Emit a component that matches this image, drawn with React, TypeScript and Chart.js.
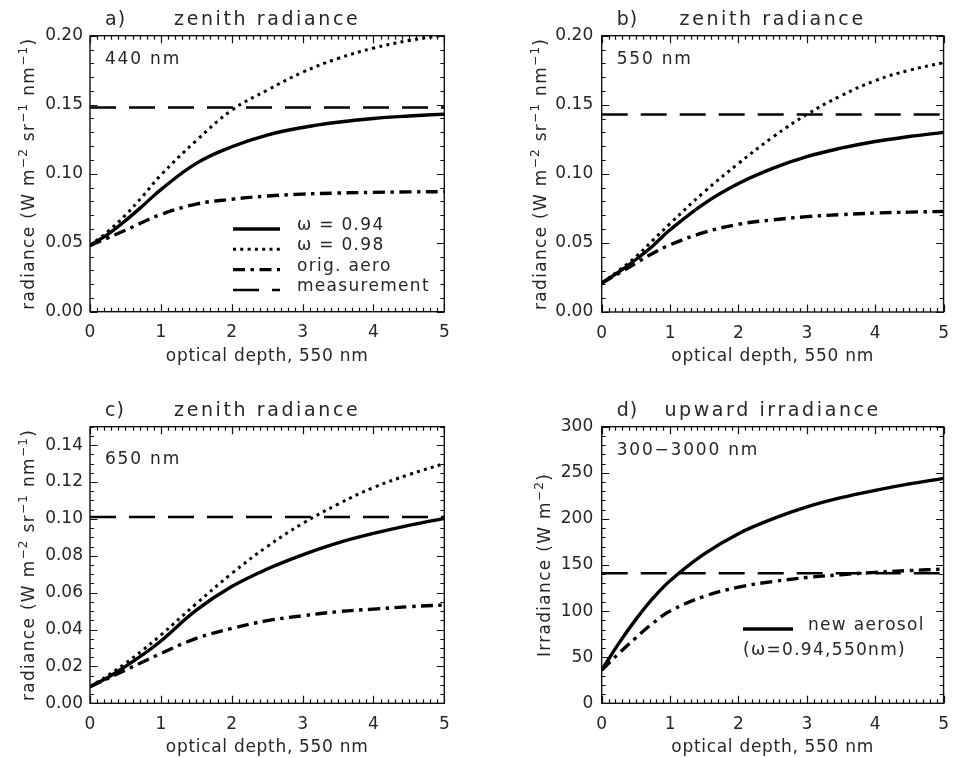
import React, { useEffect, useRef } from 'react';
import { Chart, registerables } from 'chart.js';

Chart.register(...registerables);

// ---------------------------------------------------------------------------
// Data
// ---------------------------------------------------------------------------

// optical depth at 550 nm (shared abscissa of all four panels)
const tau = [0, 0.25, 0.5, 0.75, 1, 1.5, 2, 2.5, 3, 3.5, 4, 4.5, 5];
const tauTicks = [0, 1, 2, 3, 4, 5];

// a) zenith radiance, 440 nm  [W m-2 sr-1 nm-1]
const rad440_w094 = [0.048, 0.056, 0.066, 0.077, 0.0885, 0.1075, 0.1195, 0.128, 0.1335, 0.1373, 0.14, 0.1418, 0.1432];
const rad440_w098 = [0.048, 0.058, 0.07, 0.084, 0.099, 0.124, 0.146, 0.1605, 0.1735, 0.1835, 0.191, 0.1965, 0.2005];
const rad440_orig = [0.048, 0.0535, 0.059, 0.065, 0.0705, 0.078, 0.0815, 0.0838, 0.0852, 0.086, 0.0865, 0.0868, 0.087];
const rad440_meas = 0.148;

// b) zenith radiance, 550 nm
const rad550_w094 = [0.021, 0.029, 0.038, 0.048, 0.0595, 0.0785, 0.093, 0.104, 0.1125, 0.1186, 0.1234, 0.127, 0.13];
const rad550_w098 = [0.021, 0.03, 0.04, 0.052, 0.064, 0.087, 0.1075, 0.1265, 0.143, 0.1565, 0.1675, 0.175, 0.1805];
const rad550_orig = [0.021, 0.028, 0.0354, 0.0425, 0.0487, 0.0576, 0.0635, 0.0667, 0.069, 0.0705, 0.0716, 0.0723, 0.0728];
const rad550_meas = 0.143;

// c) zenith radiance, 650 nm
const rad650_w094 = [0.009, 0.014, 0.02, 0.0265, 0.0338, 0.0505, 0.0633, 0.0728, 0.0805, 0.087, 0.0921, 0.0965, 0.1003];
const rad650_w098 = [0.009, 0.015, 0.0217, 0.029, 0.037, 0.054, 0.0704, 0.085, 0.0975, 0.108, 0.117, 0.124, 0.13];
const rad650_orig = [0.009, 0.0135, 0.018, 0.0225, 0.027, 0.0352, 0.0406, 0.0448, 0.0475, 0.0497, 0.0511, 0.0524, 0.0533];
const rad650_meas = 0.101;

// d) upward irradiance, 300-3000 nm  [W m-2]
const irr_new = [36, 65, 91, 114, 133, 162, 184, 200, 213, 223, 231, 238, 244];
const irr_orig = [36, 54, 71, 87, 100, 116, 126, 132, 136.5, 139.5, 142, 144, 145.5];
const irr_meas = 141;

// y-axis ranges and tick spacing: [min, max, major step, minor step, decimals]
const radAxisAB = [0, 0.2, 0.05, 0.01, 2];
const radAxisC = [0, 0.15, 0.02, 0.005, 2];
const irrAxis = [0, 300, 50, 10, 0];

// ---------------------------------------------------------------------------
// Styling
// ---------------------------------------------------------------------------

const INK = '#262626';
const FONT = "'DejaVu Sans', 'Liberation Sans', sans-serif";
const CW = 480;
const CH = 379;

type StyleKey = 'solid' | 'dotted' | 'dashdot' | 'dashed';
const STYLE: Record<StyleKey, { width: number; dash: number[] }> = {
  solid: { width: 3.4, dash: [] },
  dotted: { width: 3, dash: [3, 4.3] },
  dashdot: { width: 3.4, dash: [12, 5.5, 3.5, 5.5] },
  dashed: { width: 2.4, dash: [26, 13] },
};

type Seg = { text: string; sup?: boolean };
const RADIANCE_UNITS: Seg[] = [
  { text: 'radiance (W m' },
  { text: '−2', sup: true },
  { text: ' sr' },
  { text: '−1', sup: true },
  { text: ' nm' },
  { text: '−1', sup: true },
  { text: ')' },
];
const IRRADIANCE_UNITS: Seg[] = [{ text: 'Irradiance (W m' }, { text: '−2', sup: true }, { text: ')' }];

type Series = { values: number[]; style: StyleKey };
type LegendRow = { style?: StyleKey; text: string; lineX?: [number, number]; textX: number; base: number };

type Panel = {
  tag: string;
  title: string;
  band: string;
  yTitle: Seg[];
  axis: number[];
  series: Series[];
  meas: number;
  // layout inside the 480x379 canvas
  area: { l: number; t: number; r: number; b: number };
  yLabelPad: number;
  yTitleBase: number;
  titleBase: number;
  bandBase: number;
  xTitleBase: number;
  legend: LegendRow[];
};

const PANELS: { left: number; top: number; panel: Panel }[] = [
  {
    left: 0,
    top: 0,
    panel: {
      tag: 'a)',
      title: 'zenith radiance',
      band: '440 nm',
      yTitle: RADIANCE_UNITS,
      axis: radAxisAB,
      series: [
        { values: rad440_orig, style: 'dashdot' },
        { values: rad440_w098, style: 'dotted' },
        { values: rad440_w094, style: 'solid' },
      ],
      meas: rad440_meas,
      area: { l: 90, t: 35.7, r: 444.3, b: 311.7 },
      yLabelPad: 7,
      yTitleBase: 33.5,
      titleBase: 25,
      bandBase: 64.3,
      xTitleBase: 360.7,
      legend: [
        { style: 'solid', text: 'ω = 0.94', lineX: [233, 280], textX: 297, base: 230 },
        { style: 'dotted', text: 'ω = 0.98', lineX: [233, 280], textX: 297, base: 250.3 },
        { style: 'dashdot', text: 'orig. aero', lineX: [233, 280], textX: 297, base: 270.6 },
        { style: 'dashed', text: 'measurement', lineX: [233, 280], textX: 297, base: 291 },
      ],
    },
  },
  {
    left: 480,
    top: 0,
    panel: {
      tag: 'b)',
      title: 'zenith radiance',
      band: '550 nm',
      yTitle: RADIANCE_UNITS,
      axis: radAxisAB,
      series: [
        { values: rad550_orig, style: 'dashdot' },
        { values: rad550_w098, style: 'dotted' },
        { values: rad550_w094, style: 'solid' },
      ],
      meas: rad550_meas,
      area: { l: 121.7, t: 35.7, r: 475, b: 312 },
      yLabelPad: 8.5,
      yTitleBase: 65.5,
      titleBase: 25,
      bandBase: 64,
      xTitleBase: 360.7,
      legend: [],
    },
  },
  {
    left: 0,
    top: 379,
    panel: {
      tag: 'c)',
      title: 'zenith radiance',
      band: '650 nm',
      yTitle: RADIANCE_UNITS,
      axis: radAxisC,
      series: [
        { values: rad650_orig, style: 'dashdot' },
        { values: rad650_w098, style: 'dotted' },
        { values: rad650_w094, style: 'solid' },
      ],
      meas: rad650_meas,
      area: { l: 90, t: 47.7, r: 444.3, b: 324.3 },
      yLabelPad: 7,
      yTitleBase: 33.5,
      titleBase: 36.5,
      bandBase: 85.3,
      xTitleBase: 372.5,
      legend: [],
    },
  },
  {
    left: 480,
    top: 379,
    panel: {
      tag: 'd)',
      title: 'upward irradiance',
      band: '300−3000 nm',
      yTitle: IRRADIANCE_UNITS,
      axis: irrAxis,
      series: [
        { values: irr_orig, style: 'dashdot' },
        { values: irr_new, style: 'solid' },
      ],
      meas: irr_meas,
      area: { l: 121.7, t: 47.7, r: 475, b: 324.3 },
      yLabelPad: 8.5,
      yTitleBase: 69.5,
      titleBase: 37,
      bandBase: 76,
      xTitleBase: 372.5,
      legend: [
        { style: 'solid', text: 'new aerosol', lineX: [263, 313], textX: 328, base: 251 },
        { text: '(ω=0.94,550nm)', textX: 263, base: 276 },
      ],
    },
  },
];

// ---------------------------------------------------------------------------
// Plugins: box with inward major/minor ticks, and the panel annotations
// ---------------------------------------------------------------------------

function frameTicksPlugin(p: Panel) {
  return {
    id: 'frameTicks',
    afterDraw(chart: any) {
      const { ctx, chartArea: a, scales } = chart;
      const xs = scales.x;
      const ys = scales.y;
      const [yMin, yMax, yMajor, yMinor] = p.axis;
      const MAJ = 7.5;
      const MIN = 4;
      ctx.save();
      ctx.strokeStyle = '#111';
      ctx.lineWidth = 1.2;
      ctx.setLineDash([]);
      ctx.beginPath();
      // x ticks: major every 1, minor every 0.1
      for (let k = 0; k <= 50; k++) {
        const v = k / 10;
        const len = k % 10 === 0 ? MAJ : MIN;
        const px = Math.round(xs.getPixelForValue(v)) + 0.5;
        ctx.moveTo(px, a.bottom);
        ctx.lineTo(px, a.bottom - len);
        ctx.moveTo(px, a.top);
        ctx.lineTo(px, a.top + len);
      }
      const n = Math.round((yMax - yMin) / yMinor);
      const per = Math.round(yMajor / yMinor);
      for (let k = 0; k <= n; k++) {
        const v = yMin + k * yMinor;
        const len = k % per === 0 ? MAJ : MIN;
        const py = Math.round(ys.getPixelForValue(v)) + 0.5;
        ctx.moveTo(a.left, py);
        ctx.lineTo(a.left + len, py);
        ctx.moveTo(a.right, py);
        ctx.lineTo(a.right - len, py);
      }
      ctx.stroke();
      ctx.lineWidth = 1.4;
      ctx.strokeRect(a.left, a.top, a.right - a.left, a.bottom - a.top);
      ctx.restore();
    },
  };
}

function setSpacing(ctx: any, px: number) {
  if ('letterSpacing' in ctx) ctx.letterSpacing = `${px}px`;
}

function annotationPlugin(p: Panel) {
  return {
    id: 'annotations',
    afterDraw(chart: any) {
      const { ctx, chartArea: a } = chart;
      const cx = (a.left + a.right) / 2;
      const cy = (a.top + a.bottom) / 2;
      ctx.save();
      ctx.fillStyle = INK;
      ctx.textBaseline = 'alphabetic';

      // panel tag and title
      ctx.font = `19px ${FONT}`;
      setSpacing(ctx, 1);
      ctx.textAlign = 'left';
      ctx.fillText(p.tag, a.left + 15, p.titleBase);
      setSpacing(ctx, 2.6);
      ctx.textAlign = 'center';
      ctx.fillText(p.title, cx, p.titleBase);

      // wavelength band
      ctx.font = `17px ${FONT}`;
      setSpacing(ctx, 1.8);
      ctx.textAlign = 'left';
      ctx.fillText(p.band, a.left + 15, p.bandBase);

      // x-axis title
      setSpacing(ctx, 0.7);
      ctx.textAlign = 'center';
      ctx.fillText('optical depth, 550 nm', cx, p.xTitleBase);

      // y-axis title (rotated, with superscripts)
      setSpacing(ctx, 1.3);
      ctx.save();
      ctx.translate(p.yTitleBase, cy);
      ctx.rotate(-Math.PI / 2);
      ctx.textAlign = 'left';
      let total = 0;
      const widths = p.yTitle.map((s) => {
        ctx.font = `${s.sup ? 12 : 17}px ${FONT}`;
        const w = ctx.measureText(s.text).width;
        total += w;
        return w;
      });
      let x = -total / 2;
      p.yTitle.forEach((s, i) => {
        ctx.font = `${s.sup ? 12 : 17}px ${FONT}`;
        ctx.fillText(s.text, x, s.sup ? -7 : 0);
        x += widths[i];
      });
      ctx.restore();

      // legend
      p.legend.forEach((row) => {
        if (row.style && row.lineX) {
          const st = STYLE[row.style];
          ctx.save();
          ctx.strokeStyle = '#000';
          ctx.lineWidth = st.width;
          ctx.setLineDash(st.dash);
          ctx.lineCap = 'butt';
          ctx.beginPath();
          ctx.moveTo(row.lineX[0], row.base - 1);
          ctx.lineTo(row.lineX[1], row.base - 1);
          ctx.stroke();
          ctx.restore();
        }
        ctx.font = `17px ${FONT}`;
        setSpacing(ctx, 1.3);
        ctx.textAlign = 'left';
        ctx.fillText(row.text, row.textX, row.base);
      });
      ctx.restore();
    },
  };
}

// ---------------------------------------------------------------------------
// Chart construction
// ---------------------------------------------------------------------------

function buildConfig(p: Panel): any {
  const [yMin, yMax, yMajor, , decimals] = p.axis;
  const datasets: any[] = p.series.map((s) => ({
    data: tau.map((x, i) => ({ x, y: s.values[i] })),
    borderColor: '#000',
    borderWidth: STYLE[s.style].width,
    borderDash: STYLE[s.style].dash,
    borderCapStyle: 'butt',
    pointRadius: 0,
    fill: false,
    tension: 0.4,
  }));
  datasets.push({
    data: [
      { x: tauTicks[0], y: p.meas },
      { x: tauTicks[tauTicks.length - 1], y: p.meas },
    ],
    borderColor: '#000',
    borderWidth: STYLE.dashed.width,
    borderDash: STYLE.dashed.dash,
    borderCapStyle: 'butt',
    pointRadius: 0,
    fill: false,
  });

  const tickFont = { family: FONT, size: 17 };
  return {
    type: 'line',
    data: { datasets },
    options: {
      responsive: false,
      animation: false,
      events: [],
      layout: { padding: { left: 0, top: p.area.t, right: CW - p.area.r, bottom: 0 } },
      plugins: { legend: { display: false }, tooltip: { enabled: false }, title: { display: false } },
      scales: {
        x: {
          type: 'linear',
          min: tauTicks[0],
          max: tauTicks[tauTicks.length - 1],
          grid: { display: false, drawTicks: false },
          border: { display: false },
          ticks: {
            stepSize: 1,
            padding: 11,
            font: tickFont,
            color: INK,
            autoSkip: false,
            maxRotation: 0,
            includeBounds: false,
            callback: (v: number) => (tauTicks.includes(v) ? String(v) : ''),
          },
          afterFit: (s: any) => {
            s.height = CH - p.area.b;
          },
        },
        y: {
          type: 'linear',
          min: yMin,
          max: yMax,
          grid: { display: false, drawTicks: false },
          border: { display: false },
          ticks: {
            stepSize: yMajor,
            padding: p.yLabelPad,
            font: tickFont,
            color: INK,
            autoSkip: false,
            includeBounds: false,
            callback: (v: number) => Number(v).toFixed(decimals),
          },
          afterFit: (s: any) => {
            s.width = p.area.l;
          },
        },
      },
    },
    plugins: [frameTicksPlugin(p), annotationPlugin(p)],
  };
}

function PanelChart({ panel, left, top }: { panel: Panel; left: number; top: number }) {
  const ref = useRef<HTMLCanvasElement>(null);
  useEffect(() => {
    const chart = new Chart(ref.current as HTMLCanvasElement, buildConfig(panel));
    return () => chart.destroy();
  }, [panel]);
  return (
    <canvas
      ref={ref}
      width={CW}
      height={CH}
      style={{ position: 'absolute', left, top, width: CW, height: CH, display: 'block' }}
    />
  );
}

export default function App() {
  return (
    <div style={{ position: 'absolute', left: 0, top: 0, width: 960, height: 758, background: '#fff', overflow: 'hidden' }}>
      {PANELS.map((p) => (
        <PanelChart key={p.panel.tag} panel={p.panel} left={p.left} top={p.top} />
      ))}
    </div>
  );
}
